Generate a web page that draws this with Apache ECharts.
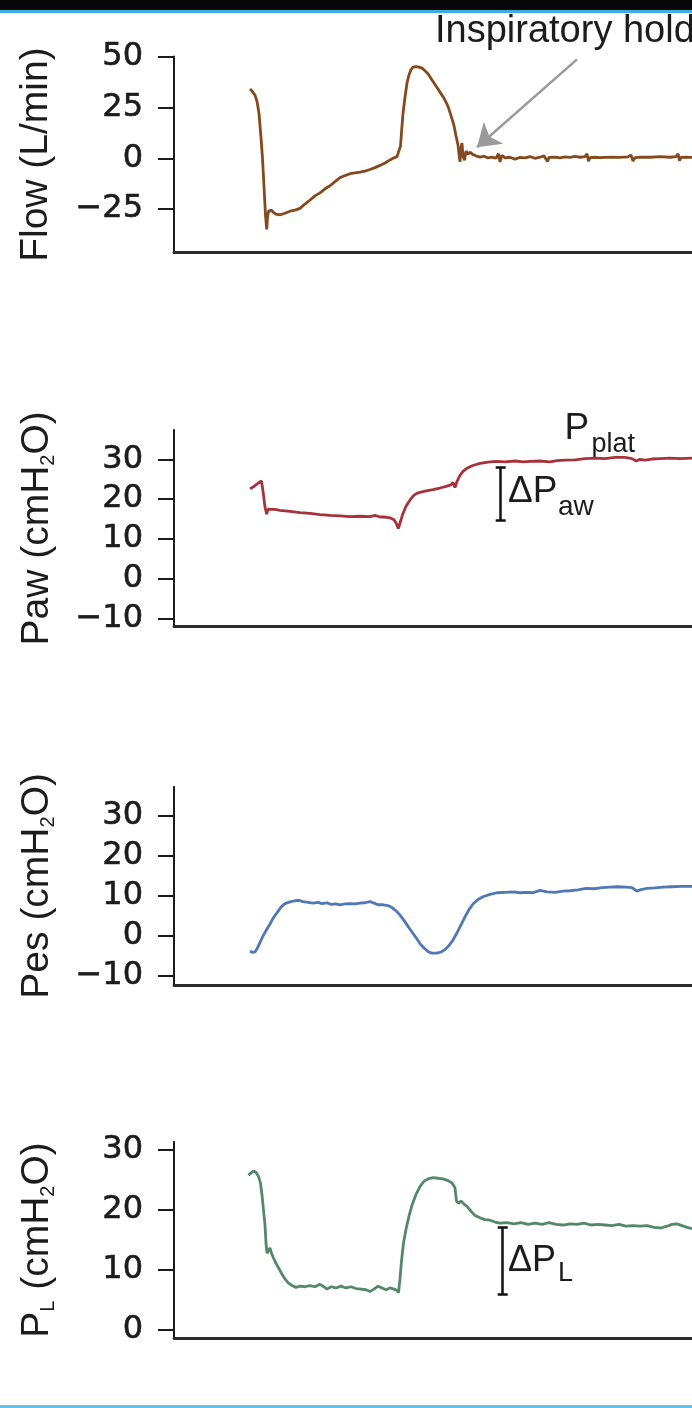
<!DOCTYPE html>
<html>
<head>
<meta charset="utf-8">
<script src="https://cdn.jsdelivr.net/npm/echarts@6/dist/echarts.min.js"></script>
<style>
  html, body { margin: 0; padding: 0; background: #ffffff; }
  #chart { width: 692px; height: 1408px; }
</style>
</head>
<body>
<div id="chart"></div>
<script>
// Time (s) / value samples for each waveform of one mechanical breath with an inspiratory hold.
const flowTrace = [
  [0.76,34],[0.78,33],[0.81,31],[0.83,28],[0.85,22],[0.87,10],[0.885,0],[0.90,-14],[0.915,-28],[0.927,-35],
  [0.935,-29],[0.945,-26],[0.96,-26],[0.975,-25.5],[0.99,-26.5],[1.02,-27.5],[1.06,-27.8],[1.11,-27],[1.16,-26],[1.21,-25.5],
  [1.26,-24.6],[1.31,-22.5],[1.36,-20.5],[1.41,-18.5],[1.46,-17],[1.51,-15],[1.56,-13.5],[1.61,-11.5],[1.66,-9.5],[1.71,-8.5],
  [1.76,-7.6],[1.81,-7.2],[1.86,-6.8],[1.91,-6.3],[1.96,-5.5],[2.01,-4.6],[2.06,-3.5],[2.11,-2.3],[2.16,-0.8],[2.20,0.2],
  [2.23,0.8],[2.25,1.5],[2.265,6],[2.277,14],[2.29,22],[2.31,30],[2.33,37],[2.35,41],[2.37,43.5],[2.39,44.8],
  [2.42,45],[2.45,44.8],[2.48,44.3],[2.51,43],[2.54,41.5],[2.58,38.5],[2.62,35.5],[2.66,32.5],[2.70,29.5],[2.74,25.5],
  [2.77,21],[2.80,16],[2.82,11],[2.84,6.5],[2.85,2],[2.86,-1.8],[2.87,5],[2.88,7.5],[2.89,1],[2.905,-1],
  [2.92,3.5],[2.94,2],[2.96,3],[2.99,1.8],[3.02,1.2],[3.06,0.6],[3.10,1],[3.14,0.2],[3.18,0.6],[3.22,0],
  [3.245,2.2],[3.26,-1.8],[3.28,1.5],[3.31,0.2],[3.36,0.5],[3.41,-0.4],[3.46,0.4],[3.51,0.2],[3.56,0.8],[3.61,0],
  [3.66,0.5],[3.70,1.2],[3.72,2],[3.735,-1.6],[3.75,0.4],[3.81,0.6],[3.86,0.2],[3.91,0.7],[3.96,0.4],[4.01,0.9],
  [4.06,0.5],[4.11,0.8],[4.13,2.2],[4.145,-1.5],[4.16,0.3],[4.21,0.5],[4.26,0.3],[4.36,0.6],[4.46,0.4],[4.54,0.7],
  [4.57,1.6],[4.59,-1.4],[4.61,0.3],[4.66,0.6],[4.76,0.5],[4.86,0.8],[4.96,0.5],[5.02,0.8],[5.04,2.2],[5.055,-1.2],
  [5.07,0.4],[5.12,0.6],[5.18,0.4]
];

const pawTrace = [
  [0.76,22.6],[0.80,23.2],[0.84,24.0],[0.875,24.6],[0.89,22],[0.91,18],[0.927,16.2],[0.94,17.5],[0.96,17.9],[1.01,17.4],
  [1.06,17.2],[1.16,16.9],[1.26,16.6],[1.36,16.4],[1.46,16.1],[1.56,15.9],[1.66,15.8],[1.76,15.6],[1.86,15.7],[1.96,15.6],
  [2.01,15.9],[2.06,15.5],[2.11,15.5],[2.16,15.3],[2.20,14.8],[2.225,13.8],[2.243,12.6],[2.26,14],[2.29,16.4],[2.32,18.2],
  [2.36,19.8],[2.40,21],[2.44,21.6],[2.51,22],[2.59,22.4],[2.66,22.8],[2.72,23.2],[2.77,23.6],[2.79,24.2],[2.81,22.9],
  [2.83,24.5],[2.86,26],[2.89,27],[2.93,27.8],[2.98,28.4],[3.06,29],[3.14,29.3],[3.22,29.5],[3.31,29.4],[3.41,29.6],
  [3.49,29.4],[3.56,29.5],[3.66,29.6],[3.76,29.4],[3.83,29.7],[3.91,29.8],[4.01,29.9],[4.11,30.2],[4.21,30.3],[4.31,30.2],
  [4.41,30.5],[4.51,30.5],[4.58,30.2],[4.62,29.6],[4.66,30.0],[4.71,29.8],[4.78,30.1],[4.86,30.2],[4.96,30.3],[5.06,30.2],
  [5.18,30.3]
];

const pesTrace = [
  [0.76,-3.8],[0.787,-4.1],[0.81,-4.0],[0.83,-3.2],[0.86,-1.6],[0.89,0],[0.927,1.6],[0.96,3.0],[0.99,4.4],[1.03,5.8],
  [1.07,7.2],[1.11,8.1],[1.16,8.5],[1.21,8.8],[1.25,8.9],[1.29,8.6],[1.34,8.4],[1.39,8.2],[1.44,8.4],[1.48,8.1],
  [1.53,8.3],[1.57,7.9],[1.62,8.0],[1.66,7.8],[1.71,8.0],[1.76,8.1],[1.81,8.0],[1.86,8.2],[1.91,8.3],[1.96,8.6],
  [2.00,8.2],[2.04,7.8],[2.09,7.8],[2.14,7.6],[2.18,7.1],[2.22,6.3],[2.26,5.2],[2.30,3.9],[2.34,2.4],[2.38,1.0],
  [2.42,-0.4],[2.46,-1.9],[2.50,-3.0],[2.54,-3.9],[2.58,-4.3],[2.63,-4.3],[2.67,-4.0],[2.71,-3.4],[2.75,-2.4],[2.79,-1.0],
  [2.83,0.8],[2.87,2.8],[2.91,4.8],[2.95,6.6],[2.99,8.0],[3.04,9.1],[3.09,9.8],[3.16,10.4],[3.23,10.8],[3.31,10.9],
  [3.39,11.0],[3.46,10.8],[3.53,10.9],[3.59,10.8],[3.66,11.4],[3.73,11.0],[3.81,10.9],[3.89,11.2],[3.96,11.3],[4.04,11.5],
  [4.12,11.9],[4.20,11.8],[4.28,12.1],[4.36,12.2],[4.44,12.3],[4.52,12.2],[4.58,12.1],[4.63,11.2],[4.67,11.6],[4.73,11.9],
  [4.81,12.0],[4.89,12.2],[4.98,12.3],[5.07,12.4],[5.18,12.4]
];

const plTrace = [
  [0.745,25.8],[0.77,26.2],[0.795,26.5],[0.82,26.3],[0.845,25.6],[0.865,24.5],[0.88,22.5],[0.895,20],[0.91,17.5],[0.92,14.5],
  [0.93,12.8],[0.945,13.2],[0.96,13.7],[0.975,12.8],[0.995,12],[1.02,11.1],[1.05,10.2],[1.08,9.3],[1.11,8.5],[1.14,7.9],
  [1.18,7.4],[1.22,7.1],[1.26,7.3],[1.31,7.2],[1.36,7.4],[1.41,7.2],[1.46,7.6],[1.50,7.2],[1.53,6.8],[1.57,7.2],
  [1.62,7.0],[1.67,7.3],[1.72,7.0],[1.77,7.2],[1.82,6.9],[1.87,6.8],[1.92,6.7],[1.96,6.4],[2.00,6.8],[2.04,7.3],
  [2.08,7.0],[2.12,6.7],[2.16,7.0],[2.20,6.8],[2.23,6.6],[2.245,6.2],[2.26,8.5],[2.275,11.5],[2.295,14.5],[2.32,16.8],
  [2.35,19],[2.38,20.8],[2.42,22.6],[2.46,23.9],[2.50,24.8],[2.54,25.2],[2.59,25.4],[2.64,25.3],[2.69,25.2],[2.74,24.9],
  [2.78,24.5],[2.81,23.7],[2.825,21.5],[2.845,21.1],[2.87,21.5],[2.90,21.0],[2.93,20.6],[2.97,19.8],[3.01,19.1],[3.06,18.7],
  [3.11,18.4],[3.16,18.3],[3.21,18.0],[3.26,17.8],[3.33,17.9],[3.40,17.7],[3.47,17.9],[3.54,17.6],[3.61,17.8],[3.68,17.6],
  [3.75,17.9],[3.82,17.6],[3.89,17.5],[3.96,17.7],[4.03,17.6],[4.10,17.8],[4.17,17.5],[4.24,17.6],[4.31,17.5],[4.38,17.4],
  [4.45,17.6],[4.52,17.3],[4.59,17.4],[4.66,17.3],[4.73,17.4],[4.80,17.1],[4.87,17.0],[4.93,17.3],[4.98,17.6],[5.03,17.7],
  [5.08,17.4],[5.13,17.1],[5.18,16.9]
];

// Tick values shown on each y axis
const flowTicks = [-25, 0, 25, 50];
const pawTicks = [-10, 0, 10, 20, 30];
const pesTicks = [-10, 0, 10, 20, 30];
const plTicks = [0, 10, 20, 30];

// Airway pressure swing (ΔPaw) and transpulmonary swing (ΔPL) brackets: [time, low, high]
const pawSwing = [3.267, 14.7, 28.1];
const plSwing = [3.287, 5.95, 17.05];

// Inspiratory-hold arrow: from label to the flow trace
const holdArrow = [[4.03, 48.6], [3.03, 5.4]];

const TIME_MAX = 5.18;
const INK = '#1c1c1c';
const TEXT_FONT = '"Liberation Sans", Arial, Helvetica, sans-serif';
const TICK_FONT = '"DejaVu Sans", "Liberation Sans", sans-serif';

const chart = echarts.init(document.getElementById('chart'), null, { renderer: 'canvas' });

const grids = [
  { left: 174, right: 0, top: 56.5, height: 196.2 },
  { left: 174, right: 0, top: 430, height: 196.7 },
  { left: 174, right: 0, top: 786.7, height: 198.3 },
  { left: 174, right: 0, top: 1141.7, height: 196.6 }
];

function minusSign(v) {
  return v < 0 ? '\u2212' + Math.abs(v) : String(v);
}

function makeYAxis(idx, name, min, max, ticks, gap) {
  return {
    type: 'value',
    gridIndex: idx,
    min: min,
    max: max,
    axisLine: { show: true, lineStyle: { color: INK, width: 2 } },
    axisTick: { show: true, inside: false, length: 16, lineStyle: { color: INK, width: 2 }, customValues: ticks },
    axisLabel: {
      margin: 31, fontFamily: TICK_FONT, fontSize: 32, color: INK,
      textBorderColor: INK, textBorderWidth: 0.6,
      customValues: ticks, formatter: minusSign
    },
    splitLine: { show: false },
    name: name,
    nameLocation: 'middle',
    nameRotate: 90,
    nameGap: gap,
    nameTextStyle: {
      fontFamily: TEXT_FONT, fontSize: 39, color: INK,
      rich: {
        m: { fontFamily: TEXT_FONT, fontSize: 39, color: INK },
        s: { fontFamily: TEXT_FONT, fontSize: 20, color: INK, padding: [22, 0, 0, 0] }
      }
    }
  };
}

function makeXAxis(idx) {
  return {
    type: 'value',
    gridIndex: idx,
    min: 0,
    max: TIME_MAX,
    axisLine: { show: true, onZero: false, lineStyle: { color: '#2a2a2a', width: 2.8 } },
    axisTick: { show: false },
    axisLabel: { show: false },
    splitLine: { show: false }
  };
}

function bracket(sw) {
  const t = sw[0], lo = sw[1], hi = sw[2], w = 0.05;
  return [
    [{ coord: [t, lo] }, { coord: [t, hi] }],
    [{ coord: [t - w, lo] }, { coord: [t + w, lo] }],
    [{ coord: [t - w, hi] }, { coord: [t + w, hi] }]
  ];
}

const bracketStyle = {
  silent: true,
  symbol: ['none', 'none'],
  label: { show: false },
  lineStyle: { color: '#111111', width: 2.5, type: 'solid' },
  emphasis: { disabled: true }
};

function trace(idx, data, color, extra) {
  return Object.assign({
    type: 'line',
    xAxisIndex: idx,
    yAxisIndex: idx,
    data: data,
    showSymbol: false,
    symbol: 'none',
    lineStyle: { color: color, width: 2.8 },
    silent: true
  }, extra || {});
}

const option = {
  animation: false,
  backgroundColor: '#ffffff',
  grid: grids,
  xAxis: [makeXAxis(0), makeXAxis(1), makeXAxis(2), makeXAxis(3)],
  yAxis: [
    makeYAxis(0, '{m|Flow (L/min)}', -46.4, 50, flowTicks, 118),
    makeYAxis(1, '{m|Paw (cmH}{s|2}{m|O)}', -12.1, 37.4, pawTicks, 116),
    makeYAxis(2, '{m|Pes (cmH}{s|2}{m|O)}', -12.25, 37.3, pesTicks, 116),
    makeYAxis(3, '{m|P}{s|L}{m| (cmH}{s|2}{m|O)}', -1.4, 31.4, plTicks, 116)
  ],
  series: [
    trace(0, flowTrace, '#84491c', {
      markLine: {
        silent: true,
        label: { show: false },
        lineStyle: { color: '#9a9a9a', width: 2.5, type: 'solid' },
        symbol: ['none', 'arrow'],
        symbolSize: 22,
        data: [[{ coord: holdArrow[0] }, { coord: holdArrow[1] }]]
      }
    }),
    trace(1, pawTrace, '#a8323c', { markLine: Object.assign({ data: bracket(pawSwing) }, bracketStyle) }),
    trace(2, pesTrace, '#5078b4'),
    trace(3, plTrace, '#558769', { markLine: Object.assign({ data: bracket(plSwing) }, bracketStyle) })
  ]
};

chart.setOption(option);

// Annotation texts anchored in data coordinates of their panel (left edge, baseline)
const notes = [
  { grid: 0, at: [2.61, 56.0], text: 'Inspiratory hold', size: 38 },
  { grid: 1, at: [3.905, 34.4], text: 'P', size: 37 },
  { grid: 1, at: [4.175, 31.3], text: 'plat', size: 27 },
  { grid: 1, at: [3.34, 18.57], text: '\u0394P', size: 37 },
  { grid: 1, at: [3.84, 15.5], text: 'aw', size: 28 },
  { grid: 3, at: [3.34, 9.45], text: '\u0394P', size: 36 },
  { grid: 3, at: [3.84, 7.78], text: 'L', size: 27 }
];

const graphics = [
  { type: 'rect', left: 0, top: 0, shape: { width: 692, height: 10 }, style: { fill: '#070707' }, silent: true },
  { type: 'rect', left: 0, top: 10, shape: { width: 692, height: 3 }, style: { fill: '#3aaee0' }, silent: true },
  { type: 'rect', left: 0, top: 1405, shape: { width: 692, height: 3 }, style: { fill: '#62c2e6' }, silent: true }
];

notes.forEach(function (n) {
  const p = chart.convertToPixel({ gridIndex: n.grid }, n.at);
  graphics.push({
    type: 'text',
    x: p[0],
    y: p[1] - 0.3465 * n.size,
    silent: true,
    style: {
      text: n.text,
      fill: INK,
      font: n.size + 'px ' + TEXT_FONT,
      align: 'left',
      verticalAlign: 'middle'
    }
  });
});

chart.setOption({ graphic: graphics });
</script>
</body>
</html>
